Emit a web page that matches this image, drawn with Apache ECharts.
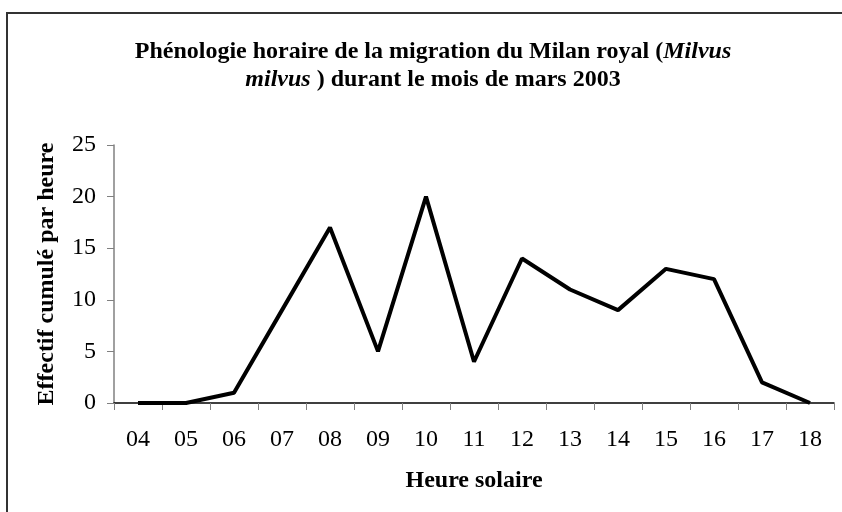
<!DOCTYPE html>
<html>
<head>
<meta charset="utf-8">
<script src="https://cdn.jsdelivr.net/npm/echarts@6/dist/echarts.min.js"></script>
<style>
 html, body { margin: 0; padding: 0; background: #fff; }
 #chart { width: 842px; height: 512px; }
</style>
</head>
<body>
<div id="chart"></div>
<script>
var hours = ['04', '05', '06', '07', '08', '09', '10', '11', '12', '13', '14', '15', '16', '17', '18'];
var counts = [0, 0, 1, 9, 17, 5, 20, 4, 14, 11, 9, 13, 12, 2, 0];
var yTicks = [0, 5, 10, 15, 20, 25];

var myChart = echarts.init(document.getElementById('chart'));
var serif = '"Liberation Serif", "Times New Roman", serif';

myChart.setOption({
    backgroundColor: '#fff',
    animation: false,
    graphic: [{
        type: 'rect',
        shape: { x: 7, y: 13, width: 900, height: 600 },
        style: { fill: 'none', stroke: '#333', lineWidth: 2 }
    }],
    title: {
        text: 'Phénologie horaire de la migration du Milan royal ({i|Milvus}\n{i|milvus} ) durant le mois de mars 2003',
        left: 428,
        top: 33,
        textAlign: 'center',
        textStyle: {
            fontFamily: serif,
            fontWeight: 'bold',
            fontSize: 24,
            color: '#000',
            lineHeight: 28,
            rich: {
                i: { fontFamily: serif, fontWeight: 'bold', fontStyle: 'italic', fontSize: 24, color: '#000', lineHeight: 28 }
            }
        }
    },
    grid: { left: 114, right: 8, top: 145, bottom: 109, containLabel: false },
    xAxis: {
        type: 'category',
        data: hours,
        boundaryGap: true,
        name: 'Heure solaire',
        nameLocation: 'middle',
        nameGap: 66,
        nameTextStyle: { fontFamily: serif, fontWeight: 'bold', fontSize: 24, color: '#000' },
        axisLine: { lineStyle: { color: '#000', width: 1.5 } },
        axisTick: { show: true, length: 7, lineStyle: { color: '#808080' } },
        axisLabel: { fontFamily: serif, fontSize: 24, color: '#000', margin: 25 },
        splitLine: { show: false }
    },
    yAxis: {
        type: 'value',
        min: yTicks[0],
        max: yTicks[yTicks.length - 1],
        interval: 5,
        name: 'Effectif cumulé par heure',
        nameLocation: 'middle',
        nameGap: 55,
        nameRotate: 90,
        nameTextStyle: { fontFamily: serif, fontWeight: 'bold', fontSize: 24, color: '#000' },
        axisLine: { show: true, lineStyle: { color: '#808080', width: 1.5 } },
        axisTick: { show: true, length: 7, lineStyle: { color: '#808080' } },
        axisLabel: { fontFamily: serif, fontSize: 24, color: '#000', margin: 18 },
        splitLine: { show: false }
    },
    series: [{
        type: 'line',
        data: counts,
        symbol: 'none',
        lineStyle: { color: '#000', width: 4 }
    }]
});
</script>
</body>
</html>
